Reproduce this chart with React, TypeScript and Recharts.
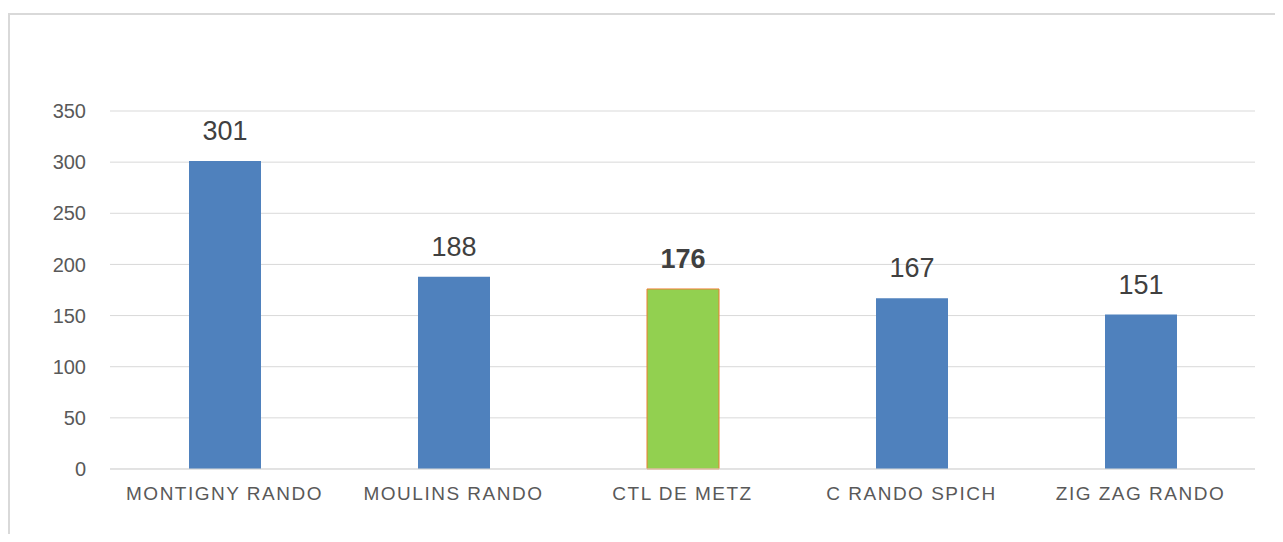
import { BarChart, Bar, XAxis, YAxis, CartesianGrid, Cell, LabelList } from "recharts";

const clubs = ["MONTIGNY RANDO", "MOULINS RANDO", "CTL DE METZ", "C RANDO SPICH", "ZIG ZAG RANDO"];
const counts = [301, 188, 176, 167, 151];
const yTicks = [0, 50, 100, 150, 200, 250, 300, 350];
const highlighted = "CTL DE METZ";

const data = clubs.map((club, i) => ({ club, count: counts[i] }));

const BLUE = "#4f81bd";
const GREEN = "#92d050";
const FONT = "'Liberation Sans', Arial, sans-serif";

const renderLabel = (props: any) => {
    const { x, y, width, value, index } = props;
    const isMe = clubs[index] === highlighted;
    return (
        <text
            x={x + width / 2}
            y={y - 21}
            textAnchor="middle"
            fill="#404040"
            fontSize={27}
            fontWeight={isMe ? "bold" : "normal"}
            fontFamily={FONT}
        >
            {value}
        </text>
    );
};

export default function App() {
    return (
        <div
            style={{
                marginTop: 5,
                width: 1273,
                height: 519,
                borderLeft: "2px solid #d9d9d9",
                borderTop: "2px solid #d9d9d9",
                background: "#fff",
                overflow: "hidden",
            }}
        >
            <BarChart
                width={1273}
                height={519}
                data={data}
                margin={{ top: 96, right: 28, bottom: 0, left: 20 }}
            >
                <CartesianGrid vertical={false} stroke="#d9d9d9" />
                <XAxis
                    dataKey="club"
                    axisLine={{ stroke: "#d9d9d9" }}
                    tickLine={false}
                    tickMargin={12}
                    height={65}
                    interval={0}
                    tick={{ fill: "#595959", fontSize: 19, fontFamily: FONT, letterSpacing: 1.5 }}
                />
                <YAxis
                    width={80}
                    domain={[0, 350]}
                    ticks={yTicks}
                    axisLine={false}
                    tickLine={false}
                    tickMargin={18}
                    tick={{ fill: "#595959", fontSize: 20, fontFamily: FONT }}
                />
                <Bar dataKey="count" barSize={72} isAnimationActive={false}>
                    {data.map((d) => (
                        <Cell
                            key={d.club}
                            fill={d.club === highlighted ? GREEN : BLUE}
                            stroke={d.club === highlighted ? "#ed7d31" : "none"}
                            strokeWidth={1}
                        />
                    ))}
                    <LabelList dataKey="count" content={renderLabel} />
                </Bar>
            </BarChart>
        </div>
    );
}
